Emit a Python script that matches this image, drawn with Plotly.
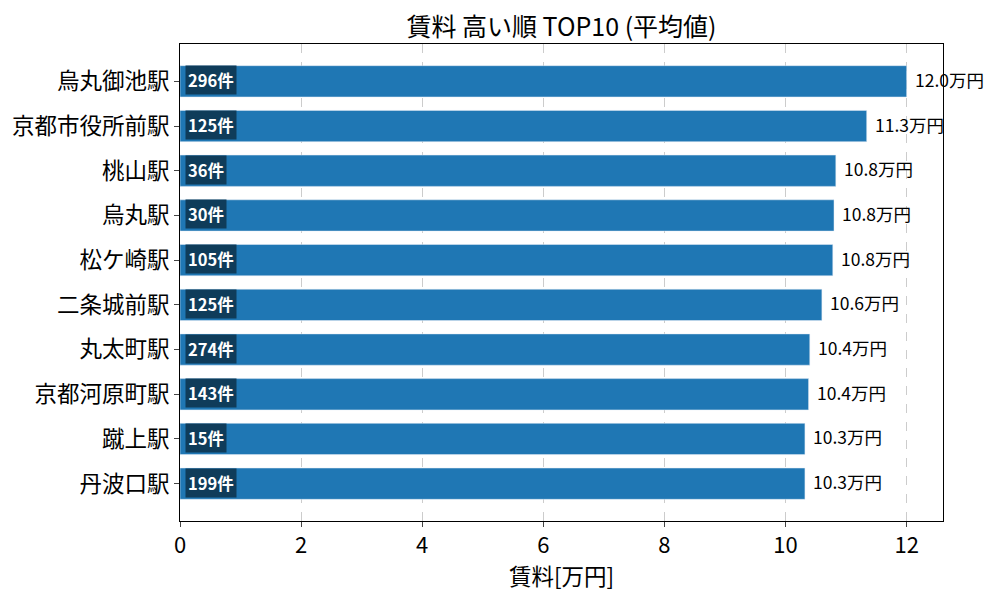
import plotly.graph_objects as go

# 駅別 平均賃料 TOP10
stations = ["烏丸御池駅", "京都市役所前駅", "桃山駅", "烏丸駅", "松ケ崎駅",
            "二条城前駅", "丸太町駅", "京都河原町駅", "蹴上駅", "丹波口駅"]
rent = [12.0, 11.34, 10.83, 10.80, 10.78, 10.60, 10.40, 10.38, 10.32, 10.32]
rent_labels = ["12.0", "11.3", "10.8", "10.8", "10.8", "10.6", "10.4", "10.4", "10.3", "10.3"]
counts = [296, 125, 36, 30, 105, 125, 274, 143, 15, 199]
xticks = [0, 2, 4, 6, 8, 10, 12]

FONT = "Noto Sans CJK JP"
pos = list(range(len(stations)))

fig = go.Figure(go.Bar(
    x=rent, y=pos, orientation="h", width=0.7,
    marker_color="#1f77b4", hoverinfo="x+y",
))

for i, (v, lab, c) in enumerate(zip(rent, rent_labels, counts)):
    fig.add_annotation(x=v, y=i, text=f"{lab}万円", showarrow=False,
                       xanchor="left", xshift=6, yshift=2,
                       font=dict(family=FONT, size=17.5, color="black"))
    fig.add_annotation(x=0, y=i, text=f"<b>{c}件</b>", showarrow=False,
                       xanchor="left", xshift=5, yshift=1,
                       bgcolor="#0f3c5a", borderpad=2,
                       font=dict(family=FONT, size=16.5, color="white"))

# ページ本体の余白(8px)を見込んだ余白設定
fig.update_layout(
    width=1000, height=600,
    margin=dict(l=172, r=65, t=36, b=87),
    plot_bgcolor="white", paper_bgcolor="white",
    font=dict(family=FONT, color="black"),
    showlegend=False,
    title=dict(text="賃料 高い順 TOP10 (平均値)", x=0.5, xref="paper", xanchor="center",
               y=0.968, yanchor="middle", font=dict(family=FONT, size=25)),
    xaxis=dict(
        range=[0, 12.6], tickvals=xticks, ticks="outside", ticklen=5,
        tickfont=dict(size=22), showline=True, linecolor="black", mirror=True,
        showgrid=True, gridcolor="#cccccc", griddash="dash", zeroline=False,
        automargin=False,
        title=dict(text="賃料[万円]", font=dict(size=22.5), standoff=6),
    ),
    yaxis=dict(
        range=[9.835, -0.835], tickvals=pos, ticktext=stations,
        ticks="outside", ticklen=5, tickfont=dict(size=22.5),
        showline=True, linecolor="black", mirror=True,
        showgrid=False, zeroline=False, automargin=False,
    ),
)

fig.write_html("out.html")
